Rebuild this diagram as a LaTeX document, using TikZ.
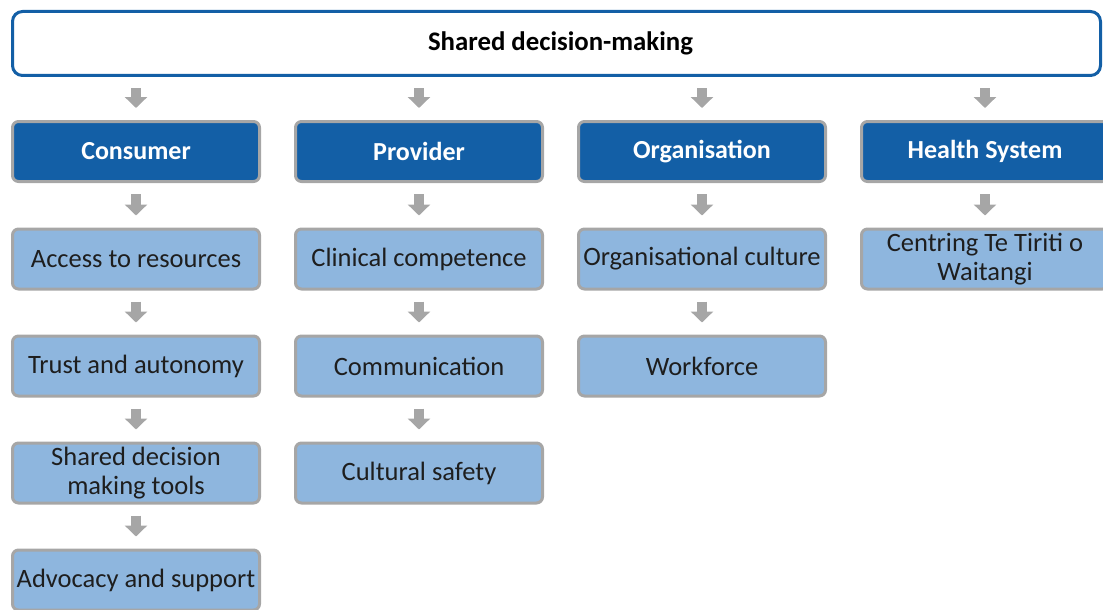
\documentclass[tikz,border=0pt]{standalone}
\usepackage{fontspec}
\setmainfont{Carlito}
\usepackage{tikz}
\usetikzlibrary{arrows.meta,positioning}

\definecolor{SDMBlue}{HTML}{135FA6}
\definecolor{SDMLight}{HTML}{8EB6DE}
\definecolor{SDMGrey}{HTML}{A6A6A6}
\definecolor{SDMText}{HTML}{1E1E1E}

\begin{document}
\begin{tikzpicture}[x=1pt,y=-1pt]
		\tikzstyle{Title}	= [rectangle, rounded corners=10pt, draw=SDMBlue, line width=3pt, fill=white, minimum width=1088pt, minimum height=64pt, inner sep=0pt, font=\fontsize{26.8}{29}\selectfont\bfseries, text=black]
		\tikzstyle{Box}		= [rectangle, rounded corners=6pt, draw=SDMGrey, line width=3pt, minimum width=247pt, minimum height=60pt, inner sep=0pt, align=center]
		\tikzstyle{Head}	= [Box, fill=SDMBlue, text=white, font=\fontsize{26}{29}\selectfont\bfseries]
		\tikzstyle{Item}	= [Box, fill=SDMLight, text=SDMText, font=\fontsize{26.5}{29}\selectfont]
		\tikzstyle{Step}	= [draw=SDMGrey, line width=10pt, -{Triangle[width=22pt,length=11pt]}, shorten <=11pt, shorten >=12pt]

		\useasboundingbox (0,0) rectangle (1103,610);

		\node (sdm) at (556.5, 43.5) [Title] {\hspace*{8pt}Shared decision-making};

		\node (con) at (136, 151.5) [Head] {Consumer};
		\node (pro) at (419, 151.5) [Head] {Provider};
		\node (org) at (702, 151.5) [Head] {Organisation};
		\node (hsy) at (985, 151.5) [Head] {Health System};

		\node (con1) at (136, 259) [Item] {Access to resources};
		\node (con2) at (136, 366) [Item] {Trust and autonomy};
		\node (con3) at (136, 473) [Item] {Shared decision\\making tools};
		\node (con4) at (136, 580) [Item] {Advocacy and support};

		\node (pro1) at (419, 259) [Item] {Clinical competence};
		\node (pro2) at (419, 366) [Item] {Communication};
		\node (pro3) at (419, 473) [Item] {Cultural safety};

		\node (org1) at (702, 259) [Item] {Organisational culture};
		\node (org2) at (702, 366) [Item] {Workforce};

		\node (hsy1) at (985, 259) [Item] {Centring Te Tiriti o\\Waitangi};

		\draw (sdm.south -| con.north) to (con.north) [Step];
		\draw (sdm.south -| pro.north) to (pro.north) [Step];
		\draw (sdm.south -| org.north) to (org.north) [Step];
		\draw (sdm.south -| hsy.north) to (hsy.north) [Step];

		\draw (con.south) to (con1.north) [Step];
		\draw (con1.south) to (con2.north) [Step];
		\draw (con2.south) to (con3.north) [Step];
		\draw (con3.south) to (con4.north) [Step];

		\draw (pro.south) to (pro1.north) [Step];
		\draw (pro1.south) to (pro2.north) [Step];
		\draw (pro2.south) to (pro3.north) [Step];

		\draw (org.south) to (org1.north) [Step];
		\draw (org1.south) to (org2.north) [Step];

		\draw (hsy.south) to (hsy1.north) [Step];
	\end{tikzpicture}
\end{document}
